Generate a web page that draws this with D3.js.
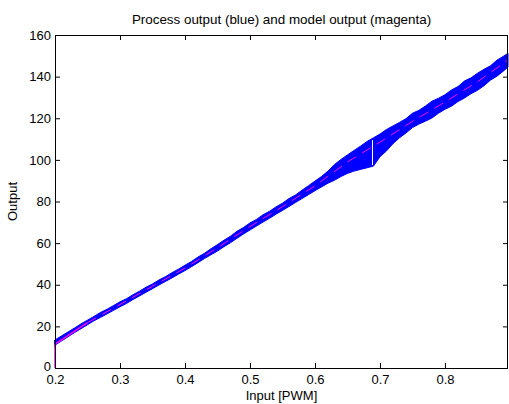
<!DOCTYPE html>
<html>
<head>
<meta charset="utf-8">
<script src="https://cdn.jsdelivr.net/npm/d3@7"></script>
<style>
  body { margin: 0; background: #fff; }
  text { font-family: "Liberation Sans", Arial, Helvetica, sans-serif; fill: #000; }
</style>
</head>
<body>
<div id="chart"></div>
<script>
var inputs = [0.20, 0.21, 0.22, 0.23, 0.24, 0.25, 0.26, 0.27, 0.28, 0.29,
              0.30, 0.31, 0.32, 0.33, 0.34, 0.35, 0.36, 0.37, 0.38, 0.39,
              0.40, 0.41, 0.42, 0.43, 0.44, 0.45, 0.46, 0.47, 0.48, 0.49,
              0.50, 0.51, 0.52, 0.53, 0.54, 0.55, 0.56, 0.57, 0.58, 0.59,
              0.60, 0.61, 0.62, 0.63, 0.64, 0.65, 0.66, 0.67, 0.68, 0.69,
              0.70, 0.71, 0.72, 0.73, 0.74, 0.75, 0.76, 0.77, 0.78, 0.79,
              0.80, 0.81, 0.82, 0.83, 0.84, 0.85, 0.86, 0.87, 0.88, 0.89, 0.897];

// process output (blue), upper and lower edge of the noisy band
var processHigh = [13.5, 15.4, 17.3, 19.2, 21.2, 23.0, 24.8, 26.7, 28.2, 30.0,
                   31.8, 33.3, 35.2, 36.9, 38.8, 40.4, 42.3, 43.9, 45.8, 47.5,
                   49.4, 51.2, 53.3, 55.1, 57.3, 59.3, 61.4, 63.3, 65.7, 67.5,
                   69.7, 71.4, 73.6, 75.3, 77.4, 79.2, 81.4, 83.1, 85.4, 87.6,
                   89.8, 92.0, 94.6, 97.8, 100.2, 102.4, 104.5, 106.6, 108.8, 110.6,
                   112.4, 114.6, 116.3, 118.0, 119.8, 122.4, 123.8, 125.9, 128.2, 129.6,
                   131.3, 133.6, 135.2, 137.9, 139.4, 141.6, 143.5, 145.2, 147.9, 149.8, 151.2];
var processLow = [11.0, 13.0, 15.0, 17.0, 18.9, 20.8, 22.7, 24.3, 26.0, 27.7,
                  29.4, 31.0, 32.9, 34.6, 36.4, 38.1, 39.9, 41.6, 43.3, 45.1,
                  46.8, 48.7, 50.6, 52.6, 54.4, 56.2, 58.3, 60.2, 62.3, 64.4,
                  66.3, 68.2, 70.1, 71.9, 73.9, 75.7, 77.6, 79.5, 81.4, 83.3,
                  85.2, 87.0, 88.8, 90.2, 92.0, 93.5, 94.6, 95.4, 96.2, 97.0,
                  101.5, 104.3, 107.8, 110.6, 112.9, 115.5, 117.2, 118.6, 120.1, 122.4,
                  124.3, 125.8, 128.0, 129.7, 131.8, 133.4, 135.6, 138.3, 140.2, 142.7, 144.6];

// model output (magenta)
var modelInput = [0.2, 0.2, 0.25, 0.3, 0.35, 0.4, 0.45, 0.5, 0.55, 0.6, 0.65, 0.7, 0.75, 0.8, 0.85, 0.897];
var modelOutput = [0, 11.5, 21.8, 30.5, 39.3, 48, 57.8, 68, 77.5, 87.5, 99, 108.5, 118.5, 127.8, 137.5, 148];

// the white gap through the band near 0.69
var gapInput = [0.6885];
var gapRange = [97.5, 109.5];

var xTicks = [0.2, 0.3, 0.4, 0.5, 0.6, 0.7, 0.8];
var yTicks = [0, 20, 40, 60, 80, 100, 120, 140, 160];

var width = 509, height = 404;
var margin = {top: 35, right: 1, bottom: 36, left: 55};
var w = width - margin.left - margin.right;
var h = height - margin.top - margin.bottom;

var svg = d3.select("#chart").append("svg")
    .attr("width", width)
    .attr("height", height);

var g = svg.append("g")
    .attr("transform", "translate(" + margin.left + "," + margin.top + ")");

var x = d3.scaleLinear().domain([0.2, 0.897]).range([0, w]);
var y = d3.scaleLinear().domain([0, 160]).range([h, 0]);

var band = inputs.map(function(v, i) {
  return {x: v, hi: processHigh[i], lo: processLow[i]};
});
var model = modelInput.map(function(v, i) { return {x: v, y: modelOutput[i]}; });

var plot = g.append("g");

// process output band
plot.append("path")
    .datum(band)
    .attr("fill", "#0000ff")
    .attr("stroke", "#0000ff")
    .attr("stroke-width", 1)
    .attr("d", d3.area()
      .x(function(d) { return x(d.x); })
      .y0(function(d) { return y(d.lo); })
      .y1(function(d) { return y(d.hi); }));

// short vertical start of the process at 0.2
plot.append("line")
    .attr("x1", x(inputs[0])).attr("x2", x(inputs[0]))
    .attr("y1", y(processLow[0] - 1)).attr("y2", y(processHigh[0]))
    .attr("stroke", "#0000ff")
    .attr("stroke-width", 2);

plot.selectAll(".gap")
    .data(gapInput)
    .enter().append("line")
      .attr("class", "gap")
      .attr("x1", function(d) { return x(d); })
      .attr("x2", function(d) { return x(d); })
      .attr("y1", y(gapRange[0]))
      .attr("y2", y(gapRange[1]))
      .attr("stroke", "#fff")
      .attr("stroke-width", 1);

// model output: vertical jump solid, rest shows in pieces through the band
plot.append("path")
    .datum(model.slice(0, 3))
    .attr("fill", "none")
    .attr("stroke", "#ff00ff")
    .attr("stroke-width", 1.5)
    .attr("d", d3.line().x(function(d) { return x(d.x); }).y(function(d) { return y(d.y); }));

plot.append("path")
    .datum(model.slice(2))
    .attr("fill", "none")
    .attr("stroke", "#ff00ff")
    .attr("stroke-width", 1)
    .attr("stroke-dasharray", "10,7")
    .attr("d", d3.line().x(function(d) { return x(d.x); }).y(function(d) { return y(d.y); }));

// axes, ticks pointing inward on all four sides
var tickFont = "13px";
var labelFont = "13.4px";

var xAxis = g.append("g")
    .attr("transform", "translate(0," + h + ")")
    .call(d3.axisBottom(x).tickValues(xTicks).tickSizeInner(-5).tickSizeOuter(0).tickPadding(7)
      .tickFormat(d3.format(".1f")));
var xTop = g.append("g")
    .call(d3.axisTop(x).tickValues(xTicks).tickSizeInner(-5).tickSizeOuter(0).tickFormat(""));
var yAxis = g.append("g")
    .call(d3.axisLeft(y).tickValues(yTicks).tickSizeInner(-5).tickSizeOuter(0).tickPadding(4));
var yRight = g.append("g")
    .attr("transform", "translate(" + w + ",0)")
    .call(d3.axisRight(y).tickValues(yTicks).tickSizeInner(-5).tickSizeOuter(0).tickFormat(""));

[xAxis, xTop, yAxis, yRight].forEach(function(a) {
  a.select(".domain").remove();
  a.selectAll(".tick line").attr("stroke", "#000");
  a.selectAll("text").style("font-size", tickFont).attr("fill", "#000");
});

// lift the "0" label a touch so it clears "0.2"
yAxis.selectAll(".tick text").filter(function(d) { return d === 0; }).attr("dy", "0.2em");

// box
g.append("rect")
    .attr("x", 0.5).attr("y", 0.5)
    .attr("width", w - 1).attr("height", h)
    .attr("fill", "none")
    .attr("stroke", "#000")
    .attr("stroke-width", 1);

// title and labels
svg.append("text")
    .attr("x", margin.left + w / 2)
    .attr("y", 24)
    .attr("text-anchor", "middle")
    .style("font-size", labelFont)
    .text("Process output (blue) and model output (magenta)");

svg.append("text")
    .attr("x", margin.left + w / 2)
    .attr("y", 400)
    .attr("text-anchor", "middle")
    .style("font-size", "13px")
    .text("Input [PWM]");

svg.append("text")
    .attr("transform", "translate(17," + (margin.top + h / 2) + ") rotate(-90)")
    .attr("text-anchor", "middle")
    .style("font-size", "13px")
    .text("Output");
</script>
</body>
</html>
